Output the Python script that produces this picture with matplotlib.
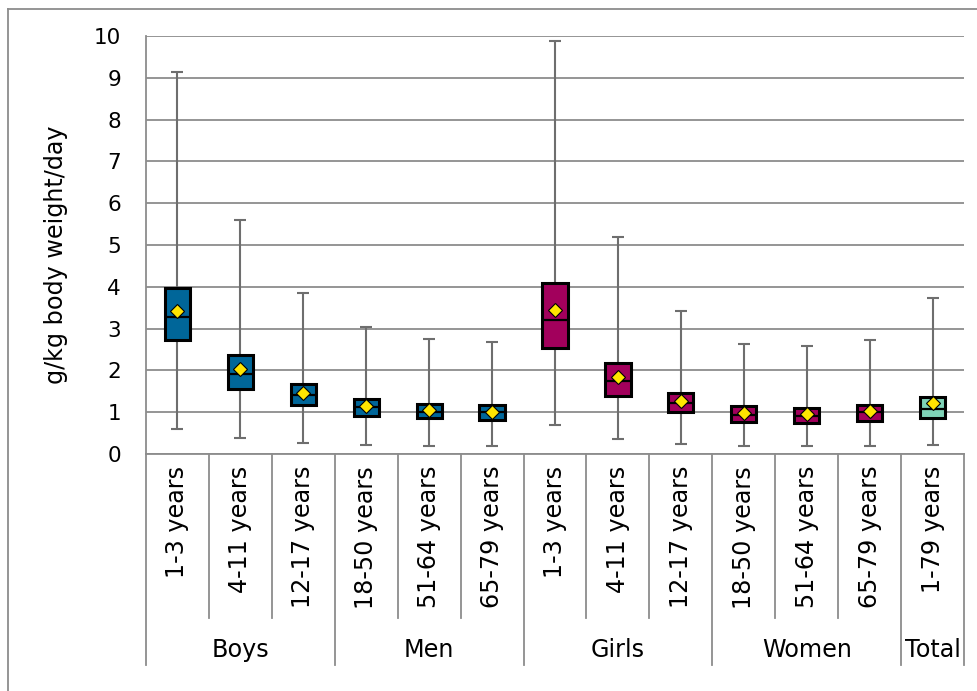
import matplotlib
matplotlib.use("Agg")
import matplotlib.pyplot as plt
from matplotlib.lines import Line2D
import numpy as np

# Intake distribution (g/kg body weight/day) by sex and age group
groups = ["Boys", "Men", "Girls", "Women", "Total"]
group_sizes = [3, 3, 3, 3, 1]
age_labels = ["1-3 years", "4-11 years", "12-17 years",
              "18-50 years", "51-64 years", "65-79 years",
              "1-3 years", "4-11 years", "12-17 years",
              "18-50 years", "51-64 years", "65-79 years",
              "1-79 years"]

whisker_low = [0.61, 0.39, 0.26, 0.21, 0.19, 0.18,
               0.69, 0.37, 0.25, 0.18, 0.18, 0.19, 0.22]
q1 = [2.73, 1.56, 1.18, 0.92, 0.85, 0.82,
      2.54, 1.39, 1.00, 0.76, 0.75, 0.80, 0.86]
median = [3.28, 1.91, 1.40, 1.12, 1.01, 1.00,
          3.21, 1.75, 1.21, 0.93, 0.92, 1.00, 1.07]
q3 = [3.97, 2.36, 1.68, 1.32, 1.20, 1.17,
      4.09, 2.18, 1.47, 1.14, 1.11, 1.18, 1.36]
whisker_high = [9.13, 5.60, 3.84, 3.03, 2.76, 2.69,
                9.87, 5.20, 3.42, 2.64, 2.58, 2.73, 3.73]
mean = [3.43, 2.03, 1.46, 1.15, 1.05, 1.01,
        3.44, 1.84, 1.27, 0.97, 0.96, 1.02, 1.23]

BLUE = "#006699"
MAROON = "#A2005C"
TEAL = "#7FD3B7"
box_colors = [BLUE] * 6 + [MAROON] * 6 + [TEAL]
GRID = "#8c8c8c"
WHISK = "#6e6e6e"

FS_TICK = 15.5
FS_TEXT = 17.2
plt.rcParams["font.family"] = ["DejaVu Sans"]

fig = plt.figure(figsize=(9.78, 6.91), dpi=100)
ax = fig.add_axes([146 / 978, 1 - 454 / 691, (964 - 146) / 978, (454 - 36) / 691])

n = len(age_labels)
x = np.arange(n) + 0.5
box_w = 0.40
cap_w = 0.19

for i in range(n):
    # whiskers
    ax.plot([x[i], x[i]], [whisker_low[i], whisker_high[i]], color=WHISK,
            lw=1.5, zorder=3, solid_capstyle="butt")
    for v in (whisker_low[i], whisker_high[i]):
        ax.plot([x[i] - cap_w / 2, x[i] + cap_w / 2], [v, v], color=WHISK,
                lw=1.5, zorder=3, solid_capstyle="butt")
    # box
    ax.add_patch(plt.Rectangle((x[i] - box_w / 2, q1[i]), box_w, q3[i] - q1[i],
                               facecolor=box_colors[i], edgecolor="black",
                               lw=2.2, zorder=4))
    ax.plot([x[i] - box_w / 2, x[i] + box_w / 2], [median[i], median[i]],
            color="black", lw=1.6, zorder=5, solid_capstyle="butt")
    ax.plot(x[i], mean[i], marker="D", ms=7.5, markerfacecolor="#FFE500",
            markeredgecolor="black", markeredgewidth=0.8, zorder=6)

ax.set_xlim(0, n)
ax.set_ylim(0, 10)
ax.set_yticks(range(0, 11))
ax.yaxis.grid(True, color=GRID, lw=1.3)
ax.set_axisbelow(True)
ax.tick_params(axis="y", length=0, pad=18, labelsize=FS_TICK)
ax.set_xticks([])
for s in ("top", "right"):
    ax.spines[s].set_visible(False)
ax.spines["left"].set_color(GRID)
ax.spines["left"].set_linewidth(1.3)
ax.spines["bottom"].set_color(GRID)
ax.spines["bottom"].set_linewidth(1.3)
ax.set_ylabel("g/kg body weight/day", fontsize=FS_TEXT)
ax.yaxis.set_label_coords(-(146 - 56) / 818, (454 - 255) / 418)
ax.yaxis.label.set_va("center")

# two-level category axis below the plot
trans = ax.get_xaxis_transform()
inner_bottom = -(618 - 454) / 418
outer_bottom = -(665 - 454) / 418
for i in range(n):
    ax.text(x[i], -(466 - 454) / 418, age_labels[i], rotation=90, ha="center",
            va="top", fontsize=FS_TEXT, transform=trans)

bounds = np.concatenate([[0], np.cumsum(group_sizes)])
for b in range(n + 1):
    yb = outer_bottom if b in bounds else inner_bottom
    ax.add_line(Line2D([b, b], [0, yb], transform=trans, color=GRID,
                       lw=1.3, clip_on=False))
for g, name in enumerate(groups):
    cx = (bounds[g] + bounds[g + 1]) / 2
    ax.text(cx, -(650 - 454) / 418, name, ha="center", va="center",
            fontsize=FS_TEXT, transform=trans)

# chart area frame
fig.add_artist(Line2D([8 / 978, 8 / 978], [0, 1 - 9 / 691], color=GRID, lw=1.3))
fig.add_artist(Line2D([8 / 978, 1], [1 - 9 / 691, 1 - 9 / 691], color=GRID, lw=1.3))

fig.savefig("out.png", dpi=100)
